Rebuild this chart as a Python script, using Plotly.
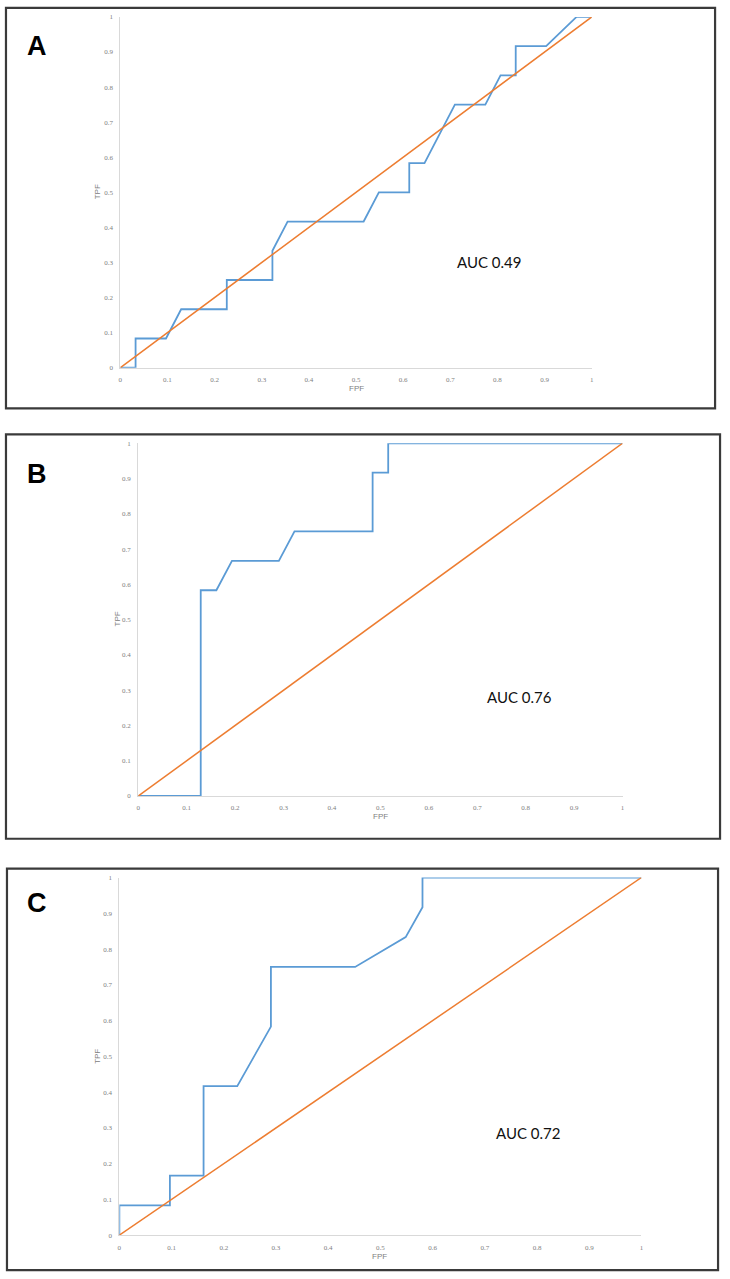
import plotly.graph_objects as go

W, H = 730, 1279

# ---- data (ROC curves: FPF, TPF) ----
a_fpf = [0, 0.0323, 0.0323, 0.0968, 0.129, 0.2258, 0.2258, 0.3226, 0.3226, 0.3548, 0.5161, 0.5484,
         0.6129, 0.6129, 0.6452, 0.7097, 0.7742, 0.8065, 0.8387, 0.8387, 0.9032, 0.9677, 1.0]
a_tpf = [0, 0, 0.0833, 0.0833, 0.1667, 0.1667, 0.25, 0.25, 0.3333, 0.4167, 0.4167, 0.5,
         0.5, 0.5833, 0.5833, 0.75, 0.75, 0.8333, 0.8333, 0.9167, 0.9167, 1.0, 1.0]

b_fpf = [0, 0.129, 0.129, 0.1613, 0.1935, 0.2903, 0.3226, 0.4839, 0.4839, 0.5161, 0.5161, 1.0]
b_tpf = [0, 0, 0.5833, 0.5833, 0.6667, 0.6667, 0.75, 0.75, 0.9167, 0.9167, 1.0, 1.0]

c_fpf = [0, 0, 0.0968, 0.0968, 0.1613, 0.1613, 0.2258, 0.2903, 0.2903, 0.4516, 0.5484, 0.5806, 0.5806, 1.0]
c_tpf = [0, 0.0833, 0.0833, 0.1667, 0.1667, 0.4167, 0.4167, 0.5833, 0.75, 0.75, 0.8333, 0.9167, 1.0, 1.0]

ref_x = [0, 1]
ref_y = [0, 1]

tick_vals = [0, 0.1, 0.2, 0.3, 0.4, 0.5, 0.6, 0.7, 0.8, 0.9, 1]
tick_text = ["0", "0.1", "0.2", "0.3", "0.4", "0.5", "0.6", "0.7", "0.8", "0.9", "1"]

panels = [
    dict(letter="A", auc="AUC 0.49", fpf=a_fpf, tpf=a_tpf,
         plot=(119, 593, 13, 366), box=(4, 4, 717, 407), letter_xy=(35, 42),
         auc_xy=(490, 260), tpf_xy=(96, 189), fpf_xy=(356, 387)),
    dict(letter="B", auc="AUC 0.76", fpf=b_fpf, tpf=b_tpf,
         plot=(137, 624, 442, 797), box=(4, 433, 722, 840), letter_xy=(35, 473),
         auc_xy=(520, 697), tpf_xy=(116, 619), fpf_xy=(381, 818)),
    dict(letter="C", auc="AUC 0.72", fpf=c_fpf, tpf=c_tpf,
         plot=(118, 643, 879, 1239), box=(5, 870, 720, 1274), letter_xy=(35, 905),
         auc_xy=(529, 1136), tpf_xy=(96, 1059), fpf_xy=(380, 1260)),
]

def px(x):
    return x / W

def py(y):
    return 1 - y / H

fig = go.Figure()
shapes = []
annotations = []

BLUE = "#5b9bd5"
ORANGE = "#ed7d31"
GREY = "#808080"

for i, p in enumerate(panels):
    n = "" if i == 0 else str(i + 1)
    xa, ya = "x" + n, "y" + n
    fig.add_trace(go.Scatter(x=p["fpf"], y=p["tpf"], mode="lines", xaxis=xa, yaxis=ya,
                             line=dict(color=BLUE, width=1.8), cliponaxis=False, showlegend=False,
                             hoverinfo="skip"))
    fig.add_trace(go.Scatter(x=ref_x, y=ref_y, mode="lines", xaxis=xa, yaxis=ya,
                             line=dict(color=ORANGE, width=1.5), cliponaxis=False, showlegend=False,
                             hoverinfo="skip"))
    x0, x1, ytop, ybot = p["plot"]
    axis_common = dict(range=[0, 1], showgrid=False, zeroline=False, showline=True,
                       linecolor="#d9d9d9", linewidth=1, tickmode="array",
                       tickvals=tick_vals, ticktext=tick_text,
                       tickfont=dict(family="Liberation Serif", size=7, color=GREY),
                       ticks="", fixedrange=True)
    fig.layout["xaxis" + n] = dict(domain=[px(x0), px(x1)], anchor=ya, ticklabelstandoff=5,
                                  **axis_common)
    fig.layout["yaxis" + n] = dict(domain=[py(ybot), py(ytop)], anchor=xa, ticklabelstandoff=5,
                                  **axis_common)
    bx0, by0, bx1, by1 = p["box"]
    shapes.append(dict(type="rect", xref="paper", yref="paper",
                       x0=px(bx0), x1=px(bx1), y0=py(by1), y1=py(by0),
                       line=dict(color="#3a3a3a", width=2.2), fillcolor="rgba(0,0,0,0)"))
    lx, ly = p["letter_xy"]
    annotations.append(dict(text="<b>" + p["letter"] + "</b>", xref="paper", yref="paper",
                            x=px(lx), y=py(ly), showarrow=False,
                            font=dict(family="Liberation Sans", size=27, color="#000000"),
                            xanchor="center", yanchor="middle"))
    ax_, ay_ = p["auc_xy"]
    annotations.append(dict(text=p["auc"], xref="paper", yref="paper",
                            x=px(ax_), y=py(ay_), showarrow=False,
                            font=dict(family="Lato", size=15, color="#111111"),
                            xanchor="center", yanchor="middle"))
    tx, ty = p["tpf_xy"]
    annotations.append(dict(text="TPF", xref="paper", yref="paper", x=px(tx), y=py(ty),
                            showarrow=False, textangle=-90,
                            font=dict(family="Liberation Sans", size=8, color=GREY),
                            xanchor="center", yanchor="middle"))
    fx, fy = p["fpf_xy"]
    annotations.append(dict(text="FPF", xref="paper", yref="paper", x=px(fx), y=py(fy),
                            showarrow=False,
                            font=dict(family="Liberation Sans", size=8, color=GREY),
                            xanchor="center", yanchor="middle"))

fig.update_layout(width=W, height=H, margin=dict(l=0, r=0, t=0, b=0),
                  paper_bgcolor="white", plot_bgcolor="white",
                  shapes=shapes, annotations=annotations, showlegend=False)

fig.write_html("out.html", config={"displayModeBar": False},
               post_script="document.body.style.margin='0';document.body.style.padding='0';"
                           "document.body.style.overflow='hidden';"
                           "document.documentElement.style.overflow='hidden';")
